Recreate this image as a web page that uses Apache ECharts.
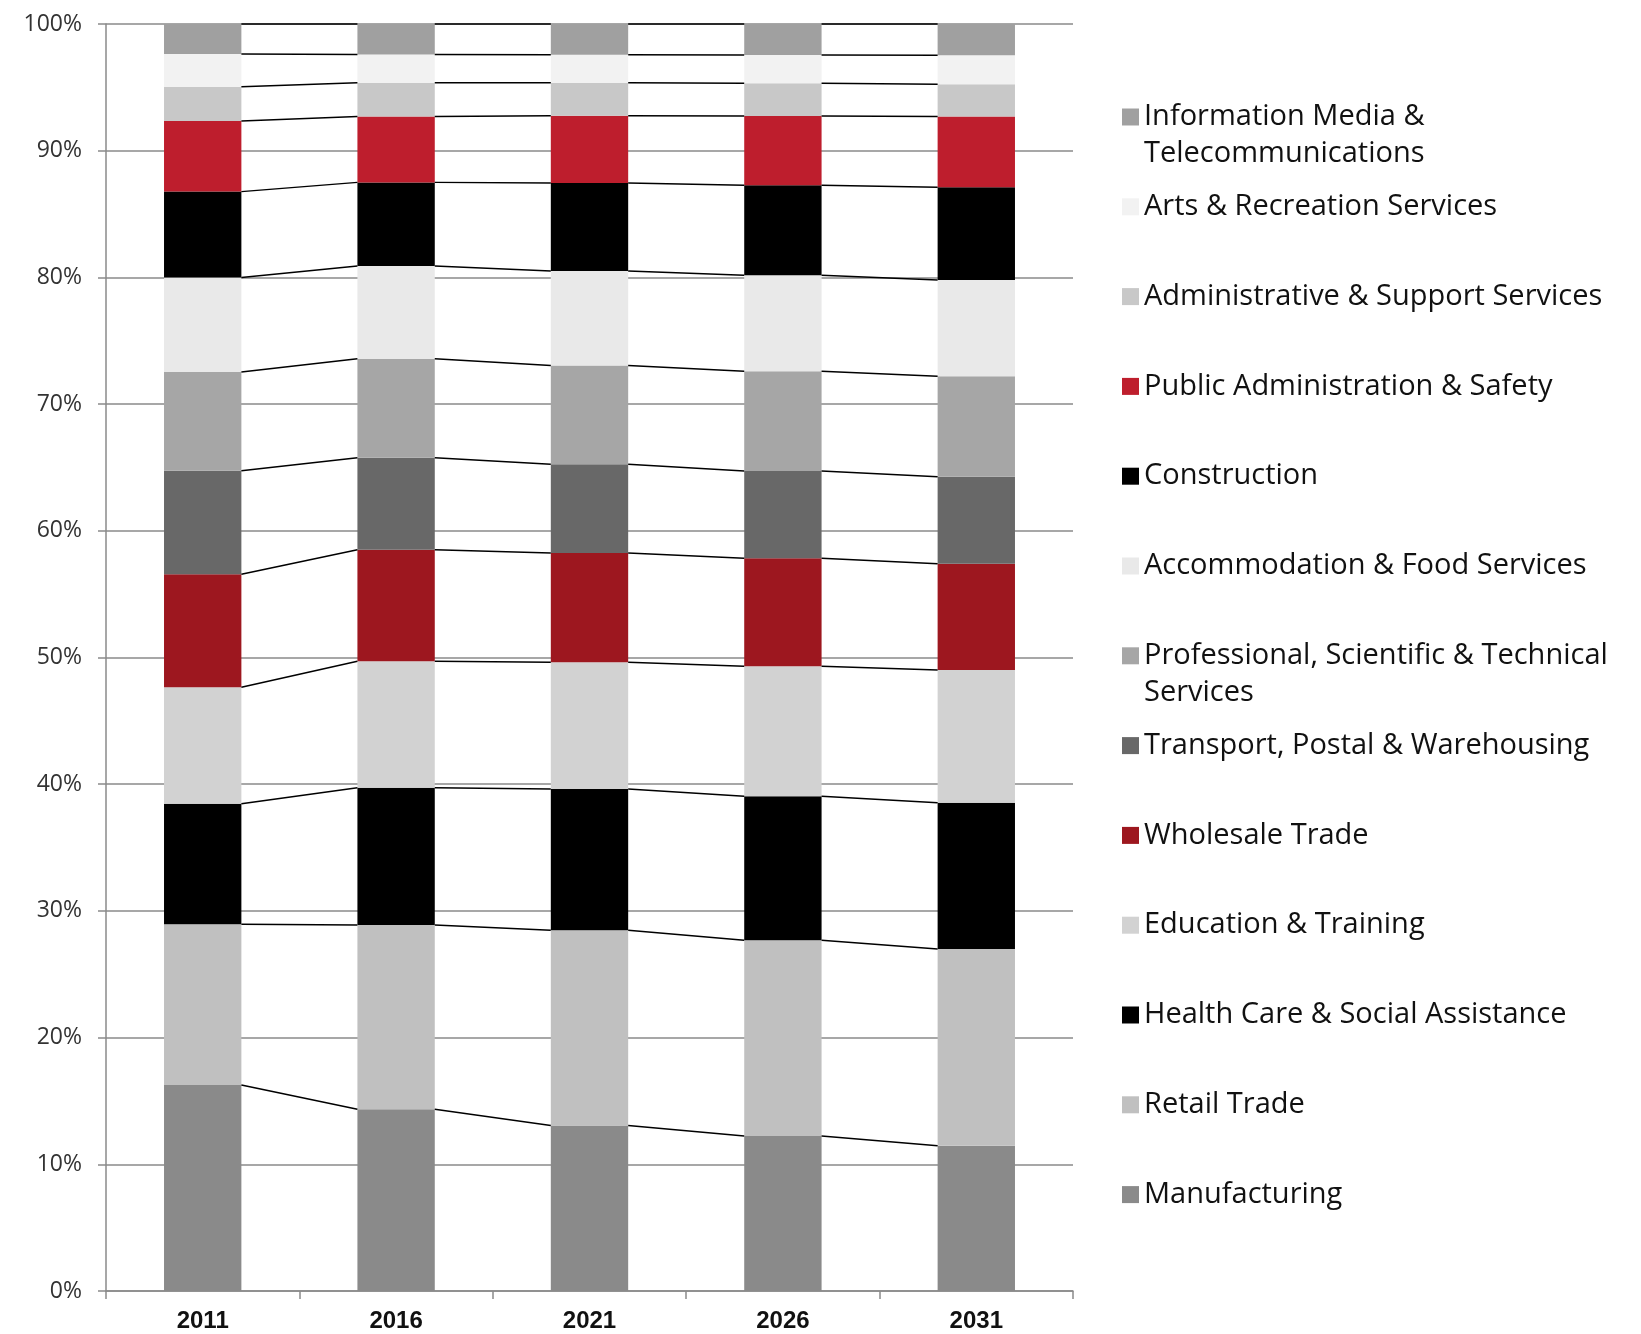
<!DOCTYPE html>
<html>
<head>
<meta charset="utf-8">
<script src="https://cdn.jsdelivr.net/npm/echarts@6/dist/echarts.min.js"></script>
<style>
  html, body { margin: 0; padding: 0; background: #fff; }
  #chart { width: 1641px; height: 1334px; }
</style>
</head>
<body>
<div id="chart"></div>
<script>
// years on the x axis
var years = ['2011', '2016', '2021', '2026', '2031'];

// share of employment by industry (%), bottom of stack first
var manufacturing   = [16.26, 14.34, 13.06, 12.23, 11.47];
var retail          = [12.68, 14.55, 15.41, 15.45, 15.52];
var health          = [9.52, 10.83, 11.15, 11.36, 11.55];
var education       = [9.19, 9.98, 10.00, 10.26, 10.47];
var wholesale       = [8.92, 8.81, 8.63, 8.53, 8.39];
var transport       = [8.17, 7.26, 7.00, 6.89, 6.87];
var professional    = [7.79, 7.81, 7.80, 7.87, 7.92];
var accommodation   = [7.47, 7.32, 7.45, 7.57, 7.60];
var construction    = [6.77, 6.60, 6.95, 7.11, 7.32];
var publicAdmin     = [5.57, 5.19, 5.31, 5.47, 5.58];
var administrative  = [2.71, 2.68, 2.61, 2.58, 2.55];
var arts            = [2.58, 2.23, 2.21, 2.23, 2.29];
var infoMedia       = [2.37, 2.40, 2.42, 2.45, 2.47];

var yTicks = [0, 10, 20, 30, 40, 50, 60, 70, 80, 90, 100];

// series list, bottom to top
var industries = [
  { name: 'Manufacturing', data: manufacturing, color: '#8a8a8a' },
  { name: 'Retail Trade', data: retail, color: '#c0c0c0' },
  { name: 'Health Care & Social Assistance', data: health, color: '#000000' },
  { name: 'Education & Training', data: education, color: '#d2d2d2' },
  { name: 'Wholesale Trade', data: wholesale, color: '#9d171f' },
  { name: 'Transport, Postal & Warehousing', data: transport, color: '#686868' },
  { name: 'Professional, Scientific & Technical\nServices', data: professional, color: '#a6a6a6' },
  { name: 'Accommodation & Food Services', data: accommodation, color: '#e9e9e9' },
  { name: 'Construction', data: construction, color: '#000000' },
  { name: 'Public Administration & Safety', data: publicAdmin, color: '#be1e2d' },
  { name: 'Administrative & Support Services', data: administrative, color: '#c8c8c8' },
  { name: 'Arts & Recreation Services', data: arts, color: '#f2f2f2' },
  { name: 'Information Media &\nTelecommunications', data: infoMedia, color: '#a0a0a0' }
];

// running totals, used for the series lines between bars
var tops = years.map(function (y, i) {
  var sum = 0;
  return industries.map(function (s) { sum += s.data[i]; return sum; });
});

var BAR = 0.4; // bar width as share of category

// legend layout
var LEG_LEFT = 1117, LEG_TOP = 94.5, LINE_H = 35, LEG_STEP = 89.8;
var LEG_FONT = 'Open Sans', LEG_SIZE = 29;

var chart = echarts.init(document.getElementById('chart'));

var series = industries.map(function (s) {
  return {
    name: s.name,
    type: 'bar',
    stack: 'total',
    barWidth: (BAR * 100) + '%',
    data: s.data,
    itemStyle: { color: s.color },
    emphasis: { disabled: true }
  };
});

// series lines joining the top of each segment to the next bar
series.push({
  type: 'custom',
  silent: true,
  z: 10,
  data: years.slice(0, years.length - 1).map(function (y, i) { return [i, 0]; }),
  renderItem: function (params, api) {
    var i = params.dataIndex;
    var half = api.size([1, 0])[0] * BAR / 2;
    var children = tops[i].map(function (v, k) {
      var a = api.coord([i, v]);
      var b = api.coord([i + 1, tops[i + 1][k]]);
      return {
        type: 'line',
        shape: { x1: a[0] + half, y1: a[1], x2: b[0] - half, y2: b[1] },
        style: { stroke: '#000', lineWidth: 1.5 }
      };
    });
    return { type: 'group', children: children };
  }
});

var legendNames = industries.map(function (s) { return s.name; }).reverse();

// second lines of wrapped legend entries, drawn under the first line
var extraLines = [];
legendNames.forEach(function (n, idx) {
  var parts = n.split('\n');
  if (parts.length > 1) {
    extraLines.push({
      type: 'text',
      left: LEG_LEFT + 17 + 10,
      top: LEG_TOP + idx * LEG_STEP + LINE_H + 10,
      style: {
        text: parts[1],
        font: LEG_SIZE + 'px "' + LEG_FONT + '"',
        fill: '#111'
      }
    });
  }
});

var option = {
  animation: false,
  backgroundColor: '#fff',
  grid: { left: 106, right: 568, top: 24, bottom: 43 },
  legend: {
    orient: 'vertical',
    left: LEG_LEFT,
    top: LEG_TOP,
    itemWidth: 17,
    itemHeight: 17,
    itemGap: LEG_STEP - LINE_H,
    icon: 'rect',
    selectedMode: false,
    data: legendNames,
    formatter: function (name) { return name.split('\n')[0]; },
    textStyle: {
      fontFamily: LEG_FONT,
      fontSize: LEG_SIZE,
      color: '#111',
      lineHeight: LINE_H
    }
  },
  graphic: extraLines,
  xAxis: {
    type: 'category',
    data: years,
    axisLine: { lineStyle: { color: '#8a8a8a', width: 1.5 } },
    axisTick: { show: true, length: 8, lineStyle: { color: '#8a8a8a', width: 1.5 } },
    axisLabel: {
      margin: 18,
      fontFamily: 'Liberation Sans',
      fontWeight: 'bold',
      fontSize: 24,
      color: '#111'
    }
  },
  yAxis: {
    type: 'value',
    min: yTicks[0],
    max: yTicks[yTicks.length - 1],
    interval: 10,
    axisLine: { show: true, lineStyle: { color: '#8a8a8a', width: 1.5 } },
    axisTick: { show: true, length: 8, lineStyle: { color: '#8a8a8a', width: 1.5 } },
    splitLine: { lineStyle: { color: '#8a8a8a', width: 1.5 } },
    axisLabel: {
      margin: 24,
      fontFamily: 'Open Sans',
      fontSize: 23,
      color: '#333',
      formatter: '{value}%'
    }
  },
  series: series
};

chart.setOption(option);
</script>
</body>
</html>
